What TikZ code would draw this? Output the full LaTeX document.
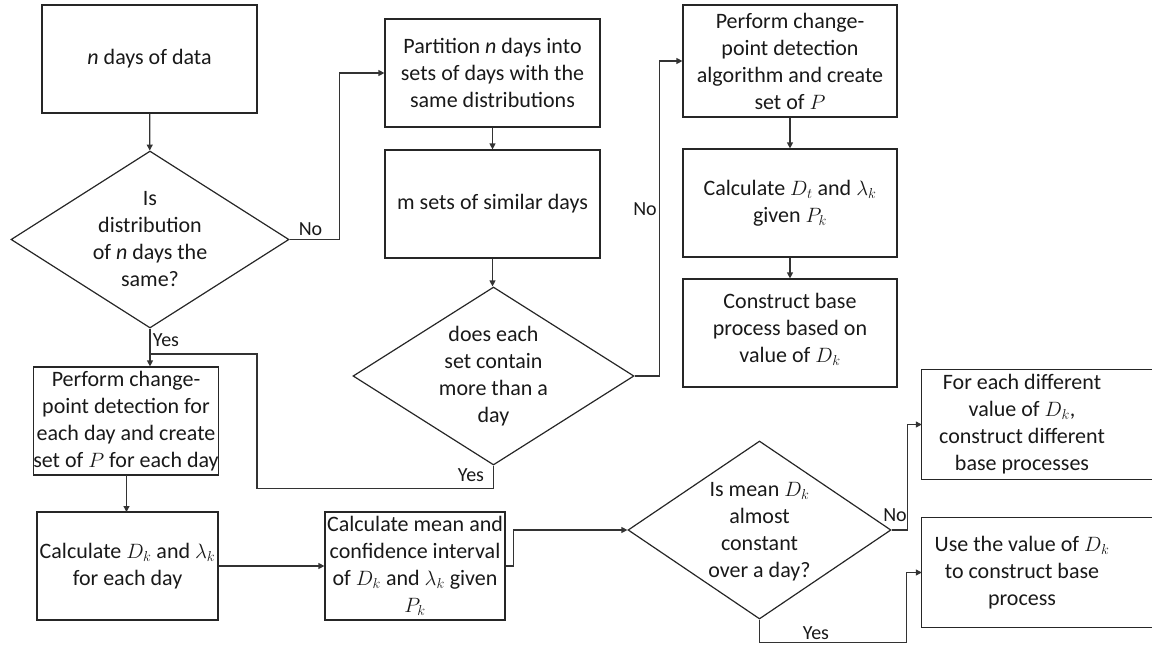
\documentclass[tikz,border=0pt]{standalone}
\usepackage{fontspec}
\setmainfont{Carlito}
\usetikzlibrary{shapes.geometric,arrows.meta,calc}

\begin{document}
\begin{tikzpicture}[x=1pt,y=-1pt,
  txt/.style={font=\fontsize{22}{27}\selectfont, text=black!90, align=center},
  box/.style={txt, draw=black!85, line width=1.2pt, inner sep=0pt},
  decision/.style={diamond, draw=black!85, line width=1.2pt, inner sep=0pt},
  link/.style={draw=black!80, line width=1.2pt},
  arr/.style={link, -{Triangle[length=6pt,width=6pt]}},
  lbl/.style={font=\fontsize{20}{22}\selectfont, text=black!90, inner sep=0pt}]

\useasboundingbox (0,0) rectangle (1152,646);
\clip (0,0) rectangle (1152,646);

% first column
\node[box, minimum width=215pt, minimum height=108pt] (A) at (149.5,59) {\textit{n} days of data};
\node[decision, minimum width=278pt, minimum height=177pt] (D1) at (150,239.5) {};
\node[txt] (D1t) at (D1) {Is\\distribution\\of \textit{n} days the\\same?};
\node[box, minimum width=180pt, minimum height=108pt] (G) at (126,421)
  {Perform change-\\point detection for\\each day and create\\set of $P$ for each day};
\node[box, minimum width=181pt, minimum height=108pt] (H) at (127.5,566)
  {Calculate $D_k$ and $\lambda_k$\\for each day};

% second column
\node[box, minimum width=215pt, minimum height=108pt] (B) at (492.5,73)
  {Partition \textit{n} days into\\sets of days with the\\same distributions};
\node[box, minimum width=215pt, minimum height=108pt] (C) at (492.5,204)
  {m sets of similar days};
\node[decision, minimum width=281pt, minimum height=178pt] (D2) at (493.5,376) {};
\node[txt] (D2t) at (D2) {does each\\set contain\\more than a\\day};
\node[box, minimum width=180pt, minimum height=108pt] (I) at (415,566)
  {Calculate mean and\\confidence interval\\of $D_k$ and $\lambda_k$ given\\$P_k$};

% third column
\node[box, minimum width=214pt, minimum height=112pt] (D) at (790,61)
  {Perform change-\\point detection\\algorithm and create\\set of $P$};
\node[box, minimum width=214pt, minimum height=108pt] (E) at (790,203)
  {Calculate $D_t$ and $\lambda_k$\\given $P_k$};
\node[box, minimum width=214pt, minimum height=108pt] (F) at (790,333) {};
\node[txt] (Ft) at ($(F)+(0,-4)$) {Construct base\\process based on\\value of $D_k$};
\node[decision, minimum width=263pt, minimum height=178pt] (D3) at (759.5,530) {};
\node[txt] (D3t) at ($(D3)+(0,2)$) {Is mean $D_k$\\almost\\constant\\over a day?};

% outcome boxes, running past the right edge
\node[txt, inner sep=0pt, minimum width=200pt, minimum height=109pt] (J) at (1022,424.5)
  {For each different\\value of $D_k$,\\construct different\\base processes};
\node[txt, inner sep=0pt, minimum width=200pt, minimum height=109pt] (K) at (1022,572.5)
  {Use the value of $D_k$\\to construct base\\process};
\draw[black!85, line width=1.2pt] (J.south east) ++(80,0) -| (J.west) |- ($(J.north east)+(80,0)$);
\draw[black!85, line width=1.2pt] (K.south east) ++(80,0) -| (K.west) |- ($(K.north east)+(80,0)$);

% connectors
\coordinate (j1) at (257,354);
\coordinate (m1) at (150,354);
\coordinate (gh1) at (126.5,475);
\coordinate (gh2) at (126.5,512);

\draw[arr] (A) -- (D1);
\draw[arr] (D1.east) -- ++(50,0) |- (B.west);
\draw[arr] (B) -- (C);
\draw[arr] (C.south) -- (C.south |- D2.north);
\draw[arr] (D2.east) -- ++(25,0) |- (D.west);
\draw[arr] (D) -- (E);
\draw[arr] (E) -- (F);
\draw[arr] (D1.south) -- (D1.south |- G.north);
\draw[link] (D2.south) -- ++(0,23) -| (j1) -- (m1);
\draw[arr] (gh1) -- (gh2);
\draw[arr] (H.east) -- (I.west);
\draw[arr] (I.east) -- ++(8,0) |- (D3.west);
\draw[arr] (D3.east) -- ++(16,0) |- (J.west);
\draw[arr] (D3.south) -- ++(0,23) -| ($(K.west)+(-15,0)$) -- (K.west);

% branch labels
\node[lbl] (n1) at (310.5,229) {No};
\node[lbl] (y1) at (166,340) {Yes};
\node[lbl] (n2) at (645,209) {No};
\node[lbl] (y2) at (471,475) {Yes};
\node[lbl] (n3) at (895,515) {No};
\node[lbl] (y3) at (816,633) {Yes};
\end{tikzpicture}
\end{document}
